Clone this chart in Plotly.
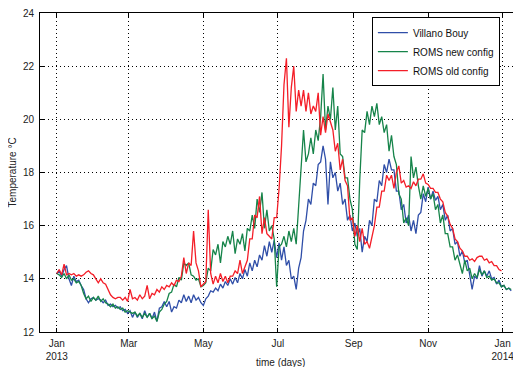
import pandas as pd
import plotly.graph_objects as go

# ---- data (2-day sampling starting 2013-01-01) ----
start_date = "2013-01-01"
step = "2D"

villano_bouy = [
    14.2, 14.3, 14.1, 14.35, 14.5, 14.0, 13.75, 14.1, 13.9, 13.95,
    13.75, 13.6, 13.25, 13.1, 13.25, 13.3, 13.2, 13.25, 13.2, 13.1,
    13.2, 13.0, 13.05, 12.95, 13.0, 12.9, 12.95, 12.8, 12.85, 12.7,
    12.8, 12.55, 12.75, 12.55, 12.7, 12.5, 12.8, 12.55, 12.7, 12.5,
    12.75, 12.4, 12.9, 12.95, 13.15, 12.95, 13.15, 12.75, 12.95, 12.9,
    13.2, 13.1, 13.4, 13.15, 13.35, 13.1, 13.4, 13.2, 13.3, 13.1,
    13.0, 13.25, 13.35, 13.55, 13.5, 13.65, 13.55, 13.8, 13.65, 13.9,
    13.75, 14.0, 13.8, 14.05, 13.85, 14.2, 14.0, 14.35, 14.1, 14.6,
    14.3, 14.7, 14.45, 14.9, 14.7, 15.25, 14.85, 15.4, 15.0, 15.45,
    14.8, 15.35, 14.7, 15.2, 14.5, 14.7, 14.0, 14.1, 13.6, 14.4,
    14.8, 15.8, 16.2, 17.0, 16.8, 17.6, 17.5, 18.3, 18.4, 19.0,
    18.5, 16.8, 18.4, 17.8, 18.0, 17.3, 17.6, 16.8, 17.0, 16.2,
    16.4, 15.8, 16.1, 15.6, 15.9, 15.0, 15.6, 15.4, 16.2, 16.0,
    17.0, 16.9, 17.7, 17.5, 18.3, 18.0, 18.5, 18.1, 18.1, 17.3,
    17.3, 16.6, 16.8, 16.1, 16.4, 15.8, 16.2, 15.7, 16.4, 16.5,
    17.2, 16.9, 17.45, 17.0, 17.3, 16.95, 17.1, 16.6, 16.8, 16.2,
    16.4, 15.8, 15.9, 15.3, 15.4, 14.85, 15.05, 14.6, 14.7, 14.1,
    13.6, 14.1, 14.0, 14.5, 14.1, 14.3, 14.1, 14.3, 14.0, 14.05,
    13.8, 13.95, 13.7, 13.75, 13.6, 13.65, 13.55,
]

roms_new = [
    14.2, 14.15, 14.05, 14.2, 14.0, 14.15, 13.95, 14.0, 13.85, 13.9,
    13.75, 13.45, 13.25, 13.35, 13.15, 13.3, 13.2, 13.35, 13.15, 13.25,
    13.1, 13.05, 12.95, 13.05, 12.9, 12.95, 12.85, 12.9, 12.75, 12.8,
    12.75, 12.7, 12.75, 12.6, 12.7, 12.55, 12.7, 12.55, 12.7, 12.5,
    12.6, 12.4, 12.75, 12.85, 13.05, 13.15, 13.45, 13.5, 13.8, 13.7,
    14.05, 13.95, 14.6, 14.5, 14.6, 14.15, 14.1, 13.95, 14.0, 13.7,
    13.75, 13.85, 14.4, 14.3, 15.1, 14.9, 15.3, 14.6, 15.4, 15.2,
    15.6, 15.3, 15.8, 14.95, 15.5, 15.3, 15.7, 15.05, 15.9, 15.8,
    16.4, 15.9, 17.0, 16.5, 17.25, 15.9, 16.6, 15.8, 16.0, 15.5,
    13.7, 15.2, 15.3, 15.6, 15.2, 15.8, 15.4, 15.9, 15.3, 16.8,
    18.0, 19.6, 18.4, 18.7, 19.3, 18.7, 19.6, 19.2, 20.1, 21.7,
    19.6, 20.5, 20.0, 21.2, 19.6, 20.5, 18.7, 18.6, 17.8, 17.8,
    17.0, 16.6, 15.3, 15.1, 17.7, 19.6, 19.5, 20.3, 19.8, 20.5,
    20.1, 20.6, 19.8, 20.1, 19.5, 19.8, 18.8, 19.4, 18.6, 18.3,
    17.2, 17.0, 16.1, 16.3, 16.0, 18.6, 17.8, 18.2, 17.5, 17.0,
    17.5, 17.1, 17.4, 17.0, 17.2, 16.6, 16.8, 16.1, 16.4, 15.7,
    15.7, 15.2, 15.2, 14.7, 14.9, 14.5, 14.2, 14.7, 14.3, 14.4,
    14.0, 14.2, 14.05, 14.35, 14.15, 14.3, 14.05, 14.1, 13.95, 14.0,
    13.85, 13.85, 13.7, 13.75, 13.6, 13.65, 13.6,
]

roms_old = [
    14.2, 14.35, 14.15, 14.55, 14.15, 14.2, 14.15, 14.2, 14.1, 14.15,
    14.1, 14.15, 14.25, 14.3, 14.2, 14.15, 14.0, 13.85, 14.0, 13.85,
    13.8, 13.6, 13.4, 13.3, 13.25, 13.3, 13.3, 13.2, 13.3, 13.15,
    13.6, 13.25, 13.3, 13.2, 13.4, 13.25, 13.35, 13.75, 13.25, 13.45,
    13.4, 13.6, 13.5, 13.7, 13.6, 13.75, 13.7, 13.85, 13.75, 13.95,
    13.9, 14.1, 14.8, 14.2, 14.6, 14.5, 15.8, 14.6, 14.3, 13.7,
    13.8, 13.9, 16.6, 14.2, 13.8, 14.1, 13.85, 14.2, 13.9, 14.1,
    13.85, 14.1, 14.1, 14.3, 14.2, 14.7, 14.2, 14.45, 14.7, 15.5,
    15.5, 16.4, 16.3, 17.1, 15.7, 16.3, 15.7, 15.6, 15.5, 16.3,
    16.3, 17.4, 19.0, 21.3, 22.3, 19.7, 21.2, 22.0, 20.3, 21.1,
    20.5, 21.1, 20.3, 21.0, 20.2, 20.5, 20.3, 21.0, 19.4, 20.1,
    19.5, 20.2, 19.9, 19.6, 18.8, 19.1, 18.1, 18.5, 17.7, 17.5,
    16.2, 16.3, 15.6, 16.0, 15.4, 15.9, 15.3, 15.4, 15.15, 15.6,
    16.0, 16.7, 16.7, 17.3, 17.3, 17.9, 17.7, 17.9, 17.4, 18.0,
    18.25, 17.6, 17.7, 17.45, 17.5, 17.4, 17.65, 17.5, 17.75, 17.75,
    17.95, 17.6, 17.55, 17.4, 17.4, 17.25, 17.25, 17.0, 16.9, 16.5,
    16.35, 16.05, 15.9, 15.5, 15.4, 15.15, 15.05, 14.85, 14.85, 14.7,
    14.75, 14.65, 14.8, 14.85, 14.85, 14.7, 14.75, 14.6, 14.65, 14.5,
    14.5, 14.35, 14.3,
]

series_names = ["Villano Bouy", "ROMS new config", "ROMS old config"]
series_colors = ["#2f4ea8", "#16844a", "#f41e28"]

tick_dates = ["2013-01-01", "2013-03-01", "2013-05-01", "2013-07-01",
              "2013-09-01", "2013-11-01", "2014-01-01"]
tick_labels = ["Jan<br>2013", "Mar", "May", "Jul", "Sep", "Nov", "Jan<br>2014"]
y_ticks = [12, 14, 16, 18, 20, 22, 24]

FONT = "Liberation Sans, Arial, Helvetica, sans-serif"

fig = go.Figure()
for name, vals, col in zip(series_names, [villano_bouy, roms_new, roms_old], series_colors):
    dates = pd.date_range(start_date, periods=len(vals), freq=step)
    fig.add_trace(go.Scatter(x=dates, y=vals, mode="lines", name=name,
                             line=dict(color=col, width=1.3)))

# the page body adds an 8px offset, so the figure is 8px smaller than the window
fig.update_layout(
    width=513, height=359,
    margin=dict(l=32, r=0, t=5, b=35),
    paper_bgcolor="white", plot_bgcolor="white",
    font=dict(family=FONT, size=10, color="#222"),
    showlegend=True,
    legend=dict(x=0.69, y=0.987, xanchor="left", yanchor="top",
                bgcolor="white", bordercolor="black", borderwidth=1,
                font=dict(family=FONT, size=10, color="#111"),
                tracegroupgap=0),
    xaxis=dict(type="date", range=["2012-12-18 07:00", "2014-01-16 00:00"],
               tickvals=tick_dates, ticktext=tick_labels,
               showgrid=True, gridcolor="black", griddash="1px,3px", gridwidth=1,
               showline=True, linecolor="black", linewidth=1, mirror="allticks",
               ticks="inside", ticklen=4, tickcolor="black", ticklabelstandoff=2,
               ticklabeloverflow="allow",
               zeroline=False, tickfont=dict(size=10, color="#222")),
    yaxis=dict(range=[12, 24], tickvals=y_ticks,
               showgrid=True, gridcolor="black", griddash="1px,3px", gridwidth=1,
               showline=True, linecolor="black", linewidth=1, mirror="allticks",
               ticks="inside", ticklen=4, tickcolor="black", ticklabelstandoff=3,
               ticklabeloverflow="allow",
               zeroline=False, tickfont=dict(size=10, color="#222")),
    annotations=[
        dict(text="time (days)", xref="paper", yref="paper", x=0.5, y=0,
             yshift=-30, xanchor="center", yanchor="middle", showarrow=False,
             font=dict(family=FONT, size=10, color="#222")),
        dict(text="Temperature \u00b0C", xref="paper", yref="paper", x=0, y=0.5,
             xshift=-28, textangle=-90, xanchor="center", yanchor="middle",
             showarrow=False, font=dict(family=FONT, size=10, color="#222")),
    ],
)

fig.write_html("out.html")
